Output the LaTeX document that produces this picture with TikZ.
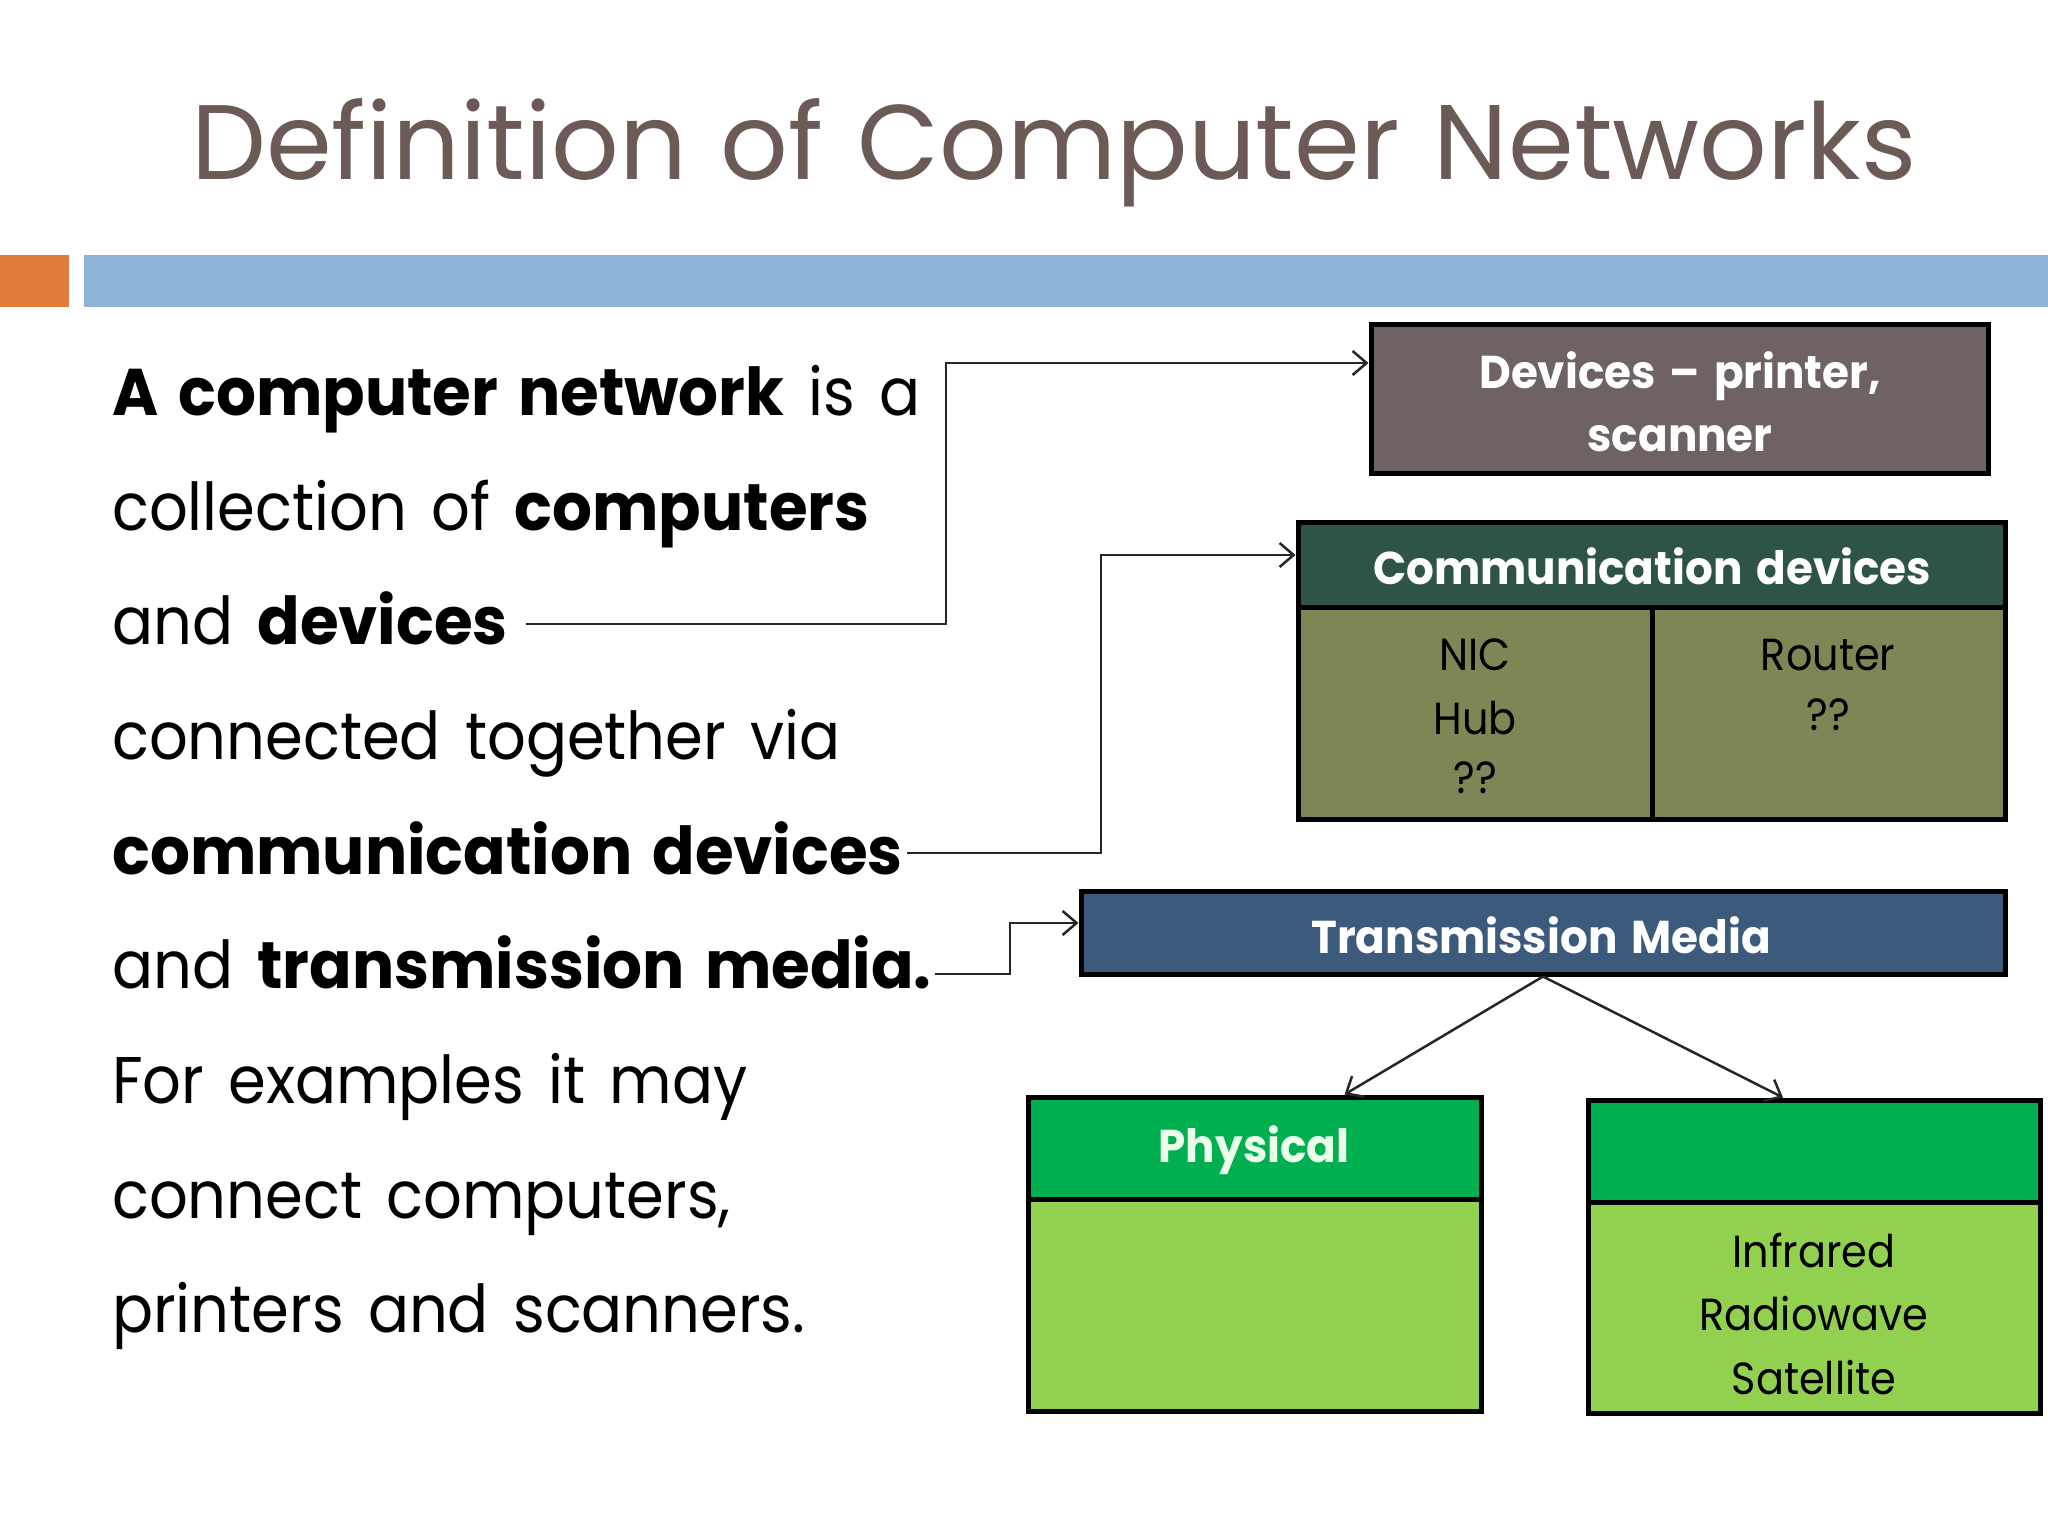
\documentclass[tikz,border=0pt]{standalone}
\usepackage{fontspec}
\setmainfont[FakeStretch=0.92, WordSpace=1.5, BoldFeatures={FakeStretch=0.95}]{Poppins}
\newfontfamily\titlefont[FakeStretch=1.0, WordSpace=1.2]{Poppins}
\usetikzlibrary{arrows.meta,calc}
\definecolor{titlec}{HTML}{6B5A56}
\definecolor{orangec}{HTML}{E07B39}
\definecolor{barc}{HTML}{8DB3D6}
\definecolor{devc}{HTML}{6E6262}
\definecolor{commh}{HTML}{2E5349}
\definecolor{commb}{HTML}{7F8656}
\definecolor{transc}{HTML}{3B5A7C}
\definecolor{greenh}{HTML}{00B050}
\definecolor{greenb}{HTML}{92D050}
\tikzset{
  body/.style={anchor=base west, inner sep=0pt, font=\fontsize{66}{70}\selectfont},
  boxlbl/.style={anchor=base, inner sep=0pt, font=\fontsize{46}{50}\selectfont\bfseries, text=white},
  celllbl/.style={anchor=base, inner sep=0pt, font=\fontsize{45}{48}\selectfont, text=black},
  box/.style={draw=black, line width=5pt, rectangle, inner sep=0pt},
  conn/.style={line width=2.5pt, draw=black!85},
  arr/.style={conn, -{Straight Barb[length=14pt,width=24pt,line width=2.5pt]}},
}
\begin{document}
\begin{tikzpicture}[x=1pt,y=-1pt]
\useasboundingbox (0,0) rectangle (2048,1536);
\fill[white] (0,0) rectangle (2048,1536);
% header
\node[anchor=base, inner sep=0pt, text=titlec, font=\fontsize{106}{110}\titlefont] (title) at (1054,179) {Definition of Computer Networks};
\fill[orangec] (0,255) rectangle (69,307);
\fill[barc] (84,255) rectangle (2048,307);
% body text
\node[body] (l1) at (112,415) {\textbf{A computer network} is a};
\node[body] (l2) at (112,530) {collection of \textbf{computers}};
\node[body] (l3) at (112,644) {and \textbf{devices}};
\node[body] (l4) at (112,759) {connected together via};
\node[body] (l5) at (112,874) {\textbf{communication devices}};
\node[body] (l6) at (112,988) {and \textbf{transmission media.}};
\node[body] (l7) at (112,1103) {For examples it may};
\node[body] (l8) at (112,1218) {connect computers,};
\node[body] (l9) at (112,1332) {printers and scanners.};
% devices box
\node[box, fill=devc, minimum width=617pt, minimum height=149pt] (dev) at (1679.5,398.5) {};
\node[boxlbl] (devt1) at (1680,388) {Devices -- printer,};
\node[boxlbl] (devt2) at (1680,451) {scanner};
% communication devices
\node[box, fill=commh, minimum width=707pt, minimum height=85pt] (commhd) at (1651.5,564.5) {};
\node[box, fill=commb, minimum width=354pt, minimum height=212pt] (commL) at (1475,713) {};
\node[box, fill=commb, minimum width=353pt, minimum height=212pt] (commR) at (1828.5,713) {};
\node[boxlbl] (commt) at (1652,584) {Communication devices};
\node[celllbl] (nic) at (1475,670) {NIC};
\node[celllbl] (hub) at (1475,734) {Hub};
\node[celllbl] (q1) at (1475,793) {??};
\node[celllbl] (router) at (1828,670) {Router};
\node[celllbl] (q2) at (1828,730) {??};
% transmission media
\node[box, fill=transc, minimum width=924pt, minimum height=83pt] (trans) at (1543,932.5) {};
\node[boxlbl] (transt) at (1541,953) {Transmission Media};
% physical
\node[box, fill=greenh, minimum width=453pt, minimum height=102pt] (physh) at (1254.5,1148) {};
\node[box, fill=greenb, minimum width=453pt, minimum height=212pt] (physb) at (1254.5,1305) {};
\node[boxlbl, text=green!8!white] (phys) at (1254,1162) {Physical};
% wireless
\node[box, fill=greenh, minimum width=452pt, minimum height=102pt] (wireh) at (1814,1151) {};
\node[box, fill=greenb, minimum width=452pt, minimum height=211pt] (wireb) at (1814,1307.5) {};
\node[celllbl] (ir) at (1814,1267) {Infrared};
\node[celllbl] (rw) at (1814,1330) {Radiowave};
\node[celllbl] (sat) at (1814,1394) {Satellite};
% connectors
\coordinate (s1) at ($(l3.base east)+(18,-20)$);
\coordinate (k1) at (946,363);
\draw[arr] (s1) -| (k1) -- (k1 -| dev.west);
\coordinate (s2) at ($(l5.base east)+(4,-21)$);
\coordinate (k2) at (1101,555);
\draw[arr] (s2) -| (k2) -- (k2 -| commhd.west);
\coordinate (s3) at ($(l6.base east)+(3,-14)$);
\coordinate (k3) at (1010,923);
\draw[arr] (s3) -| (k3) -- (k3 -| trans.west);
\draw[arr] (trans.south) -- ([xshift=90pt]physh.north);
\draw[arr] (trans.south) -- ([xshift=-31pt]wireh.north);
\end{tikzpicture}
\end{document}
